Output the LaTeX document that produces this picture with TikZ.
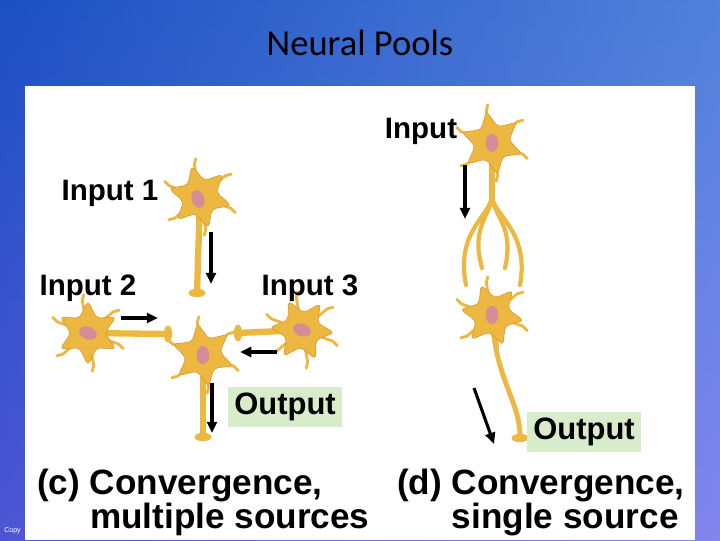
\documentclass[tikz,border=0pt]{standalone}
\usepackage{fontspec}
\setmainfont{Liberation Sans}
\newfontfamily\titlefont{Carlito}
\usetikzlibrary{shapes.geometric,arrows.meta}
\definecolor{cell}{RGB}{236,184,66}
\definecolor{celld}{RGB}{214,150,40}
\definecolor{nuc}{RGB}{214,140,150}
\definecolor{outg}{RGB}{216,236,204}
\newlength{\pxu}\setlength{\pxu}{0.7087pt}
\tikzset{
  soma/.style={star,star points=6,star point ratio=1.9,minimum size=46pt,fill=cell,draw=celld,line width=0.4pt,rounded corners=3pt,inner sep=0pt},
  nucl/.style={ellipse,minimum width=9pt,minimum height=13pt,fill=nuc,inner sep=0pt},
  axon/.style={draw=cell,line width=4.5pt,line cap=round},
  dend/.style={draw=cell,line width=2pt,line cap=round},
  knob/.style={ellipse,minimum width=12pt,minimum height=6pt,fill=cell,inner sep=0pt},
  lab/.style={font=\bfseries\fontsize{21}{22}\selectfont,inner sep=0pt},
  captext/.style={font=\bfseries\fontsize{25}{24}\selectfont,inner sep=0pt,align=left},
  outbox/.style={fill=outg,font=\bfseries\fontsize{22}{22}\selectfont,minimum width=115\pxu,minimum height=40\pxu,inner sep=0pt},
  arr/.style={-{Triangle[length=8pt,width=7pt]},line width=2.2pt}
}
\begin{document}
\begin{tikzpicture}[x=0.025cm,y=-0.025cm]
\shade[left color={rgb,255:red,35;green,40;blue,190},right color={rgb,255:red,130;green,130;blue,235}] (0,0) rectangle (720,540);
\shade[top color={rgb,255:red,20;green,130;blue,200},bottom color={rgb,255:red,130;green,140;blue,240},opacity=0.45] (0,0) rectangle (720,540);
\useasboundingbox (0,0) rectangle (720,540);
\fill[white] (25,86) rectangle (695,540);
\node[font=\titlefont\fontsize{26}{28}\selectfont] (title) at (360,43) {Neural Pools};
\node[font=\fontsize{5}{6}\selectfont,white,anchor=west,inner sep=0pt] (copy) at (4,531) {Copy};
% axons (under somas)
\coordinate (a1) at (197,293); \coordinate (a2) at (168,334); \coordinate (a3) at (238,333);
\coordinate (ac) at (203,437);
\draw[axon] (200,197) -- (a1);
\draw[axon] (88,333) -- (a2);
\draw[axon] (302,330) -- (a3);
\draw[axon] (203,355) -- (ac);
\node[knob] (k1) at (a1) {}; \node[knob,rotate=90] (k2) at (a2) {};
\node[knob,rotate=90] (k3) at (a3) {}; \node[knob] (kc) at (ac) {};
% right column
\draw[axon,line width=4pt] (492,143) -- (492,200);
\foreach \e/\c in {{466,285}/{455,230},{482,268}/{470,225},{505,268}/{515,225},{520,285}/{530,230}}
  \draw[dend,line width=3pt] (492,195) .. controls (492,215) and (\c) .. (\e);
\draw[axon,line width=3.5pt] (492,315) .. controls (495,380) and (520,400) .. (520,437);
\node[knob] (kr) at (520,438) {};
% dendrites
\foreach \x/\y in {200/197,88/333,203/355,302/330,492/143,492/315}{
  \foreach \a in {20,80,140,200,260,320}
    \draw[dend] (\x,\y) -- ++(\a:33) -- ++(\a+25:6);
}
% somas
\node[soma,rotate=15] (n1) at (200,197) {}; \node[nucl,rotate=20] (u1) at (198,199) {};
\node[soma] (n2) at (88,333) {}; \node[nucl,rotate=70] (u2) at (88,333) {};
\node[soma,rotate=10] (nc) at (203,355) {}; \node[nucl] (uc) at (203,355) {};
\node[soma,rotate=25] (n3) at (302,330) {}; \node[nucl,rotate=70] (u3) at (302,330) {};
\node[soma,rotate=10] (r1) at (492,143) {}; \node[nucl] (v1) at (492,143) {};
\node[soma,rotate=20] (r2) at (492,315) {}; \node[nucl] (v2) at (492,315) {};
% arrows
\coordinate (p1) at (211,232); \coordinate (q1) at (211,284);
\coordinate (p2) at (121,318); \coordinate (q2) at (158,318);
\coordinate (p3) at (277,352); \coordinate (q3) at (240,352);
\coordinate (p4) at (212,383); \coordinate (q4) at (212,433);
\coordinate (p5) at (465,165); \coordinate (q5) at (465,219);
\coordinate (p6) at (474,388); \coordinate (q6) at (494,444);
\foreach \i in {1,...,6} \draw[arr] (p\i) -- (q\i);
% labels
\node[lab] (l1) at (110,193) {Input 1};
\node[lab] (l2) at (88,288) {Input 2};
\node[lab] (l3) at (310,288) {Input 3};
\node[lab] (l4) at (421,131) {Input};
\node[outbox] (o1) at (285,407) {Output};
\node[outbox] (o2) at (584,432) {Output};
\node[captext,anchor=north west] (c1) at (37,469) {(c) Convergence,\\\hphantom{(c) }multiple sources};
\node[captext,anchor=north west] (c2) at (397,469) {(d) Convergence,\\\hphantom{(d) }single source};
\end{tikzpicture}
\end{document}
